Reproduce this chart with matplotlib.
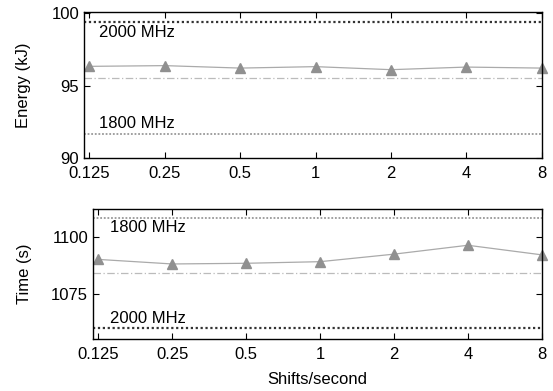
import numpy as np
import matplotlib
matplotlib.use('Agg')
import matplotlib.pyplot as plt

plt.rcParams['font.family'] = ['Liberation Sans', 'DejaVu Sans']

# ---- data ----
shifts = [0.125, 0.25, 0.5, 1, 2, 4, 8]
shift_labels = ['0.125', '0.25', '0.5', '1', '2', '4', '8']

energy = [96.34, 96.39, 96.22, 96.32, 96.11, 96.29, 96.22]
energy_2000 = 99.42
energy_1800 = 91.64
energy_ref = 95.53

time_s = [1090.2, 1088.2, 1088.5, 1089.2, 1092.5, 1096.4, 1092.2]
time_2000 = 1060.1
time_1800 = 1108.5
time_ref = 1084.3

FS = 12

fig = plt.figure(figsize=(5.53, 3.91), dpi=100)
ax1 = fig.add_axes([84/553, 1-158/391, 458/553, 146/391])
ax2 = fig.add_axes([93/553, 1-339/391, 449/553, 130/391])


def style(ax):
    ax.set_xscale('log', base=2)
    ax.set_xlim(0.119, 8.02)
    ax.set_xticks(shifts)
    ax.set_xticklabels(shift_labels)
    ax.minorticks_off()
    ax.tick_params(direction='in', top=True, right=True, length=4, labelsize=FS, width=0.8)
    ax.tick_params(axis='x', pad=6)
    for s in ax.spines.values():
        s.set_linewidth(1.0)


# ==== energy ====
ax1.axhline(energy_2000, color='#333333', ls=(0, (1, 1.2)), lw=1.6)
ax1.axhline(energy_1800, color='#999999', ls=(0, (1, 1)), lw=1.3)
ax1.axhline(energy_ref, color='#bbbbbb', ls=(0, (6, 2, 1, 2)), lw=0.9)
ax1.plot(shifts, energy, color='#aaaaaa', lw=0.9, marker='^', ms=6.5,
         mfc='#909090', mec='#909090', clip_on=False)
ax1.text(0.137, energy_2000 - 0.25, '2000 MHz', fontsize=FS, va='top')
ax1.text(0.137, energy_1800 + 0.2, '1800 MHz', fontsize=FS, va='bottom')
ax1.set_ylim(90, 100.1)
ax1.set_yticks([90, 95, 100])
ax1.set_ylabel('Energy (kJ)', fontsize=FS, labelpad=15)
style(ax1)

# ==== time ====
ax2.axhline(time_1800, color='#999999', ls=(0, (1, 1)), lw=1.3)
ax2.axhline(time_2000, color='#333333', ls=(0, (1, 1.2)), lw=1.6)
ax2.axhline(time_ref, color='#bbbbbb', ls=(0, (6, 2, 1, 2)), lw=0.9)
ax2.plot(shifts, time_s, color='#aaaaaa', lw=0.9, marker='^', ms=6.5,
         mfc='#909090', mec='#909090', clip_on=False)
ax2.text(0.14, time_1800 - 1.2, '1800 MHz', fontsize=FS, va='top')
ax2.text(0.14, time_2000 + 1.0, '2000 MHz', fontsize=FS, va='bottom')
ax2.set_ylim(1055.3, 1112.3)
ax2.set_yticks([1075, 1100])
ax2.set_ylabel('Time (s)', fontsize=FS, labelpad=14)
ax2.set_xlabel('Shifts/second', fontsize=FS, labelpad=7)
style(ax2)

fig.savefig('out.png', dpi=100)
